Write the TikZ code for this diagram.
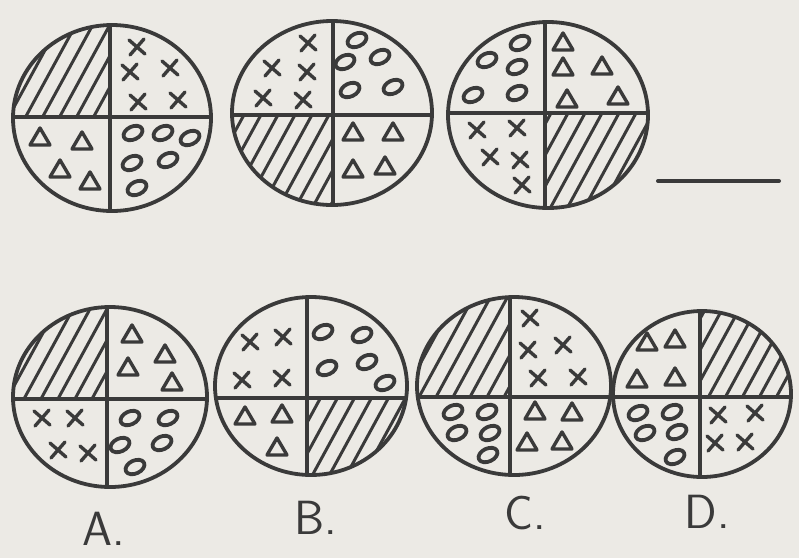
\documentclass[tikz,border=0pt]{standalone}
\usepackage{tikz}
\definecolor{paperc}{HTML}{ECEAE5}
\definecolor{inkc}{HTML}{3A3A3A}
\tikzset{
  rim/.style={draw=inkc, line width=3.8pt},
  split/.style={draw=inkc, line width=3.4pt},
  hatch/.style={draw=inkc, line width=3pt},
  glyph/.style={draw=inkc, line width=3.4pt, line cap=round, line join=round},
  tag/.style={font=\sffamily\fontsize{48}{48}\selectfont, text=inkc, inner sep=0pt},
  pics/xmk/.style={code={\draw[glyph] (-8,-7) -- (8,7) (-7,8) -- (7,-8);}},
  pics/trimk/.style={code={\draw[glyph] (-10,7) -- (10,7) -- (0,-10) -- cycle;}},
  pics/ovmk/.style={code={\draw[glyph, line width=3.8pt, rotate=25] (0,0) ellipse [x radius=10pt, y radius=6.5pt];}},
}

\begin{document}
\begin{tikzpicture}[x=1pt, y=-1pt]
\fill[paperc] (0,0) rectangle (799,558);
\useasboundingbox (0,0) rectangle (799,558);

% top row, first circle
\begin{scope}
\clip (112,118) ellipse [x radius=99pt, y radius=93pt];
\begin{scope}
\clip (0,0) rectangle (110,117);
\foreach \s in {-60,-43,...,290} \draw[hatch] (\s-60,228) -- (\s+60,8);
\end{scope}
\draw[split] (110,0) -- (110,240) (0,117) -- (230,117);
\end{scope}
\draw[rim] (112,118) ellipse [x radius=99pt, y radius=93pt];
\foreach \p in {(137,47),(130,72),(170,68),(138,102),(178,100)} \pic at \p {xmk};
\foreach \p in {(40,138),(82,142),(60,170),(90,182)} \pic at \p {trimk};
\foreach \p in {(133,133),(163,133),(190,138),(132,163),(168,160),(137,188)} \pic at \p {ovmk};

% top row, second circle
\begin{scope}
\clip (332,113) ellipse [x radius=100pt, y radius=92pt];
\begin{scope}
\clip (220,115) rectangle (333,220);
\foreach \s in {160,177,...,510} \draw[hatch] (\s-60,223) -- (\s+60,3);
\end{scope}
\draw[split] (333,0) -- (333,240) (220,115) -- (450,115);
\end{scope}
\draw[rim] (332,113) ellipse [x radius=100pt, y radius=92pt];
\foreach \p in {(308,43),(272,68),(307,72),(263,98),(303,100)} \pic at \p {xmk};
\foreach \p in {(357,40),(345,62),(380,57),(350,90),(393,87)} \pic at \p {ovmk};
\foreach \p in {(353,133),(393,133),(353,170),(385,167)} \pic at \p {trimk};

% top row, third circle
\begin{scope}
\clip (548,115) ellipse [x radius=100pt, y radius=93pt];
\begin{scope}
\clip (545,113) rectangle (660,220);
\foreach \s in {380,397,...,720} \draw[hatch] (\s-60,225) -- (\s+60,5);
\end{scope}
\draw[split] (545,0) -- (545,240) (440,113) -- (660,113);
\end{scope}
\draw[rim] (548,115) ellipse [x radius=100pt, y radius=93pt];
\foreach \p in {(520,43),(487,60),(517,67),(473,95),(517,93)} \pic at \p {ovmk};
\foreach \p in {(563,43),(563,68),(602,67),(567,100),(618,97)} \pic at \p {trimk};
\foreach \p in {(477,130),(517,128),(490,157),(520,160),(522,185)} \pic at \p {xmk};

% the blank to fill in
\draw[inkc, line width=4pt, line cap=round] (658,181) -- (779,181);

% answer A
\begin{scope}
\clip (110,397) ellipse [x radius=97pt, y radius=90pt];
\begin{scope}
\clip (0,290) rectangle (107,399);
\foreach \s in {-60,-43,...,290} \draw[hatch] (\s-60,507) -- (\s+60,287);
\end{scope}
\draw[split] (107,290) -- (107,500) (0,399) -- (220,399);
\end{scope}
\draw[rim] (110,397) ellipse [x radius=97pt, y radius=90pt];
\foreach \p in {(132,335),(165,355),(128,368),(172,383)} \pic at \p {trimk};
\foreach \p in {(42,418),(75,418),(58,450),(88,453)} \pic at \p {xmk};
\foreach \p in {(130,418),(168,418),(120,445),(162,443),(135,467)} \pic at \p {ovmk};
\node[tag] (labA) at (104,529) {A.};

% answer B
\begin{scope}
\clip (311,386) ellipse [x radius=96pt, y radius=89pt];
\begin{scope}
\clip (307,398) rectangle (420,490);
\foreach \s in {140,157,...,490} \draw[hatch] (\s-60,496) -- (\s+60,276);
\end{scope}
\draw[split] (307,290) -- (307,490) (200,398) -- (420,398);
\end{scope}
\draw[rim] (311,386) ellipse [x radius=96pt, y radius=89pt];
\foreach \p in {(250,342),(283,337),(242,380),(282,378)} \pic at \p {xmk};
\foreach \p in {(323,332),(362,335),(327,368),(367,362),(385,383)} \pic at \p {ovmk};
\foreach \p in {(245,417),(282,415),(277,448)} \pic at \p {trimk};
\node[tag] (labB) at (316,518) {B.};

% answer C
\begin{scope}
\clip (514,386) ellipse [x radius=97pt, y radius=89pt];
\begin{scope}
\clip (400,290) rectangle (510,397);
\foreach \s in {340,357,...,690} \draw[hatch] (\s-60,496) -- (\s+60,276);
\end{scope}
\draw[split] (510,290) -- (510,490) (400,397) -- (620,397);
\end{scope}
\draw[rim] (514,386) ellipse [x radius=97pt, y radius=89pt];
\foreach \p in {(530,318),(528,350),(563,345),(538,378),(578,377)} \pic at \p {xmk};
\foreach \p in {(453,412),(487,412),(457,433),(490,433),(488,455)} \pic at \p {ovmk};
\foreach \p in {(535,412),(572,413),(527,443),(562,442)} \pic at \p {trimk};
\node[tag] (labC) at (525,513) {C.};

% answer D
\begin{scope}
\clip (702,394) ellipse [x radius=89pt, y radius=83pt];
\begin{scope}
\clip (700,300) rectangle (799,397);
\foreach \s in {540,557,...,880} \draw[hatch] (\s-60,504) -- (\s+60,284);
\end{scope}
\draw[split] (700,300) -- (700,490) (600,397) -- (799,397);
\end{scope}
\draw[rim] (702,394) ellipse [x radius=89pt, y radius=83pt];
\foreach \p in {(647,343),(675,340),(637,380),(675,378)} \pic at \p {trimk};
\foreach \p in {(638,413),(672,412),(645,433),(677,432),(675,457)} \pic at \p {ovmk};
\foreach \p in {(718,415),(755,413),(715,443),(745,442)} \pic at \p {xmk};
\node[tag] (labD) at (707,512) {D.};
\end{tikzpicture}
\end{document}
